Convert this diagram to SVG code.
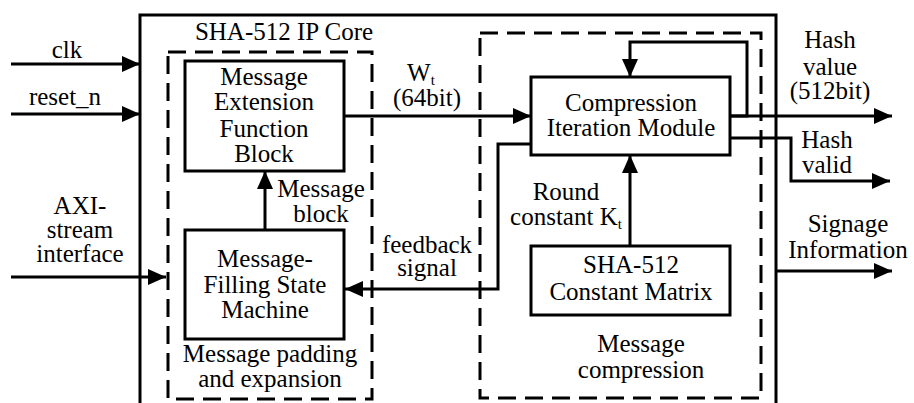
<svg xmlns="http://www.w3.org/2000/svg" width="914" height="403" viewBox="0 0 914 403">
<style>
text{font-family:"Liberation Serif","Times New Roman",serif;font-size:25px;fill:#000;text-anchor:middle}
.sub{font-size:15px}
.box{fill:#fff;stroke:#000;stroke-width:3}
.dash{fill:none;stroke:#000;stroke-width:3;stroke-dasharray:18 9}
.ln{fill:none;stroke:#000;stroke-width:3}
</style>
<defs>
<marker id="ah" markerWidth="18" markerHeight="16" refX="18" refY="8" orient="auto" markerUnits="userSpaceOnUse">
<path d="M0,0 L18,8 L0,16 Z" fill="#000"/>
</marker>
</defs>
<rect width="914" height="403" fill="#fff"/>
<g id="outer">
<rect x="140" y="15" width="636" height="400" fill="none" stroke="#000" stroke-width="3"/>
<text x="284" y="40">SHA-512 IP Core</text>
</g>
<g id="padding-group">
<rect class="dash" x="168" y="52" width="204" height="347"/>
<text x="270" y="362">Message padding</text>
<text x="270" y="387">and expansion</text>
</g>
<g id="compression-group">
<rect class="dash" x="480" y="33" width="281" height="365"/>
<text x="641" y="352">Message</text>
<text x="641" y="378">compression</text>
</g>
<g id="connectors">
<path class="ln" d="M11,64 H140" marker-end="url(#ah)"/>
<path class="ln" d="M11,114 H140" marker-end="url(#ah)"/>
<path class="ln" d="M11,277 H166" marker-end="url(#ah)"/>
<path class="ln" d="M344,116 H531" marker-end="url(#ah)"/>
<path class="ln" d="M265,230 V171" marker-end="url(#ah)"/>
<path class="ln" d="M531,144 H498 V289 H345" marker-end="url(#ah)"/>
<path class="ln" d="M630,246 V155" marker-end="url(#ah)"/>
<path class="ln" d="M730,116 H747 V42 H630 V77" marker-end="url(#ah)"/>
<path class="ln" d="M730,116 H892" marker-end="url(#ah)"/>
<path class="ln" d="M730,138 H791 V181 H890" marker-end="url(#ah)"/>
<path class="ln" d="M776,271 H892" marker-end="url(#ah)"/>
</g>
<g id="labels">
<text x="67" y="58">clk</text>
<text x="65" y="105">reset_n</text>
<text x="80" y="214">AXI-</text>
<text x="80" y="238">stream</text>
<text x="80" y="262">interface</text>
<text x="421" y="81">W<tspan class="sub" dy="4">t</tspan></text>
<text x="427" y="106">(64bit)</text>
<text x="321" y="197">Message</text>
<text x="321" y="222">block</text>
<text x="427" y="253">feedback</text>
<text x="427" y="276">signal</text>
<text x="566" y="200">Round</text>
<text x="566" y="225">constant K<tspan class="sub" dy="4">t</tspan></text>
<text x="830" y="48">Hash</text>
<text x="830" y="75">value</text>
<text x="830" y="99">(512bit)</text>
<text x="827" y="148">Hash</text>
<text x="827" y="173">valid</text>
<text x="848" y="232">Signage</text>
<text x="848" y="258">Information</text>
</g>
<g id="mef">
<rect class="box" x="185" y="61" width="159" height="110"/>
<text x="264" y="85">Message</text>
<text x="264" y="110">Extension</text>
<text x="264" y="137">Function</text>
<text x="264" y="162">Block</text>
</g>
<g id="mfsm">
<rect class="box" x="185" y="230" width="159" height="109"/>
<text x="265" y="267">Message-</text>
<text x="265" y="293">Filling State</text>
<text x="265" y="318">Machine</text>
</g>
<g id="cim">
<rect class="box" x="531" y="77" width="199" height="78"/>
<text x="631" y="111">Compression</text>
<text x="631" y="136">Iteration Module</text>
</g>
<g id="scm">
<rect class="box" x="531" y="246" width="199" height="69"/>
<text x="631" y="273">SHA-512</text>
<text x="631" y="300">Constant Matrix</text>
</g>
</svg>
